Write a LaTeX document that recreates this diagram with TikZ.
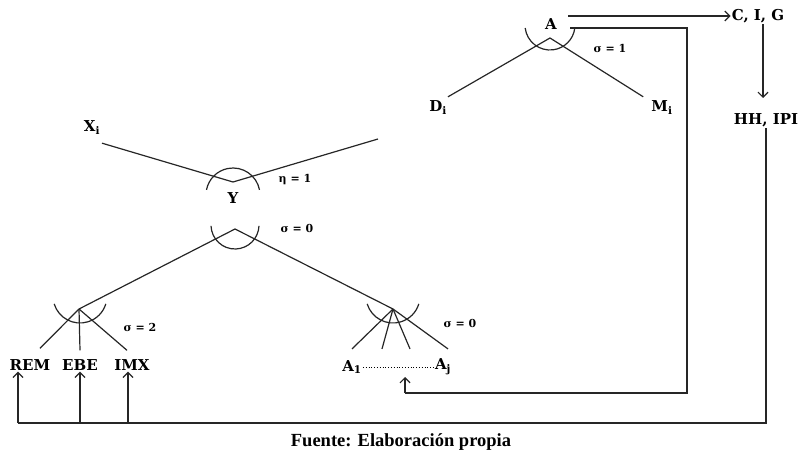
\documentclass[tikz,border=0pt]{standalone}
\usepackage{fontspec}
\setmainfont{DejaVu Serif}
\newfontfamily\footfont{Liberation Serif}
\usetikzlibrary{arrows.meta}
\tikzset{
  lbl/.style={font=\bfseries\fontsize{15}{17}\selectfont, inner sep=1pt},
  par/.style={font=\bfseries\fontsize{11}{13}\selectfont, inner sep=1pt},
  ln/.style={line width=1.2pt, black!85},
  arr/.style={ln, -{Straight Barb[length=5pt,width=10pt]}},
}
\begin{document}
\begin{tikzpicture}[x=1pt,y=1pt]
\useasboundingbox (0,0) rectangle (800,-454);
% labels
\node[lbl] (A) at (551,-24) {A};
\node[lbl] (di) at (438,-108) {D\textsubscript{i}};
\node[lbl] (mi) at (662,-108) {M\textsubscript{i}};
\node[lbl] (cig) at (758,-16) {C, I, G};
\node[lbl] (hh) at (766,-120) {HH, IPI};
\node[lbl] (xi) at (92,-128) {X\textsubscript{i}};
\node[lbl] (Y) at (233,-198) {Y};
\node[lbl] (rem) at (30,-365) {REM};
\node[lbl] (ebe) at (80,-365) {EBE};
\node[lbl] (imx) at (132,-365) {IMX};
\node[lbl] (a1) at (352,-367) {A\textsubscript{1}};
\node[lbl] (aj) at (443,-367) {A\textsubscript{j}};
\node[par] at (610,-48) {σ = 1};
\node[par] at (295,-180) {η = 1};
\node[par] at (297,-228) {σ = 0};
\node[par] at (140,-327) {σ = 2};
\node[par] at (460,-323) {σ = 0};
% apex points of the nests
\coordinate (pA) at (550,-38);
\coordinate (pY) at (233,-182);
\coordinate (p0) at (235,-229);
\coordinate (p2) at (79,-309);
\coordinate (pj) at (393,-309);
\coordinate (yr) at (378,-139);
\coordinate (ret) at (405,-377);
% nests
\draw[ln] (di.north east) ++(0,3) -- (pA) -- ([shift={(-7,3)}]mi.north west);
\draw[ln] (550,-25) ++(187:25) arc[start angle=187,end angle=353,radius=25];
\draw[ln] ([shift={(10,-7)}]xi.south) -- (pY) -- (yr);
\draw[ln] (233,-195) ++(11:27) arc[start angle=11,end angle=169,radius=27];
\draw[ln] (p2) -- (p0) -- (pj);
\draw[ln] (235,-225) ++(182:24) arc[start angle=182,end angle=358,radius=24];
\draw[ln] (p2) -- ([shift={(10,10)}]rem.north);
\draw[ln] (p2) -- ([yshift=8]ebe.north);
\draw[ln] (p2) -- ([shift={(-5,8)}]imx.north);
\draw[ln] (80,-296) ++(197:27) arc[start angle=197,end angle=343,radius=27];
\foreach \dx in {0,30,58,96}
  \draw[ln] (pj) -- ([shift={(\dx,10)}]a1.north);
\draw[ln] (393,-296) ++(197:27) arc[start angle=197,end angle=343,radius=27];
\draw[dotted, line width=0.8pt] (a1.east) -- (aj.west);
% flows
\draw[arr] ([xshift=10pt]A.east |- cig.west) -- (cig.west);
\draw[arr] (cig.south -| 763,0) -- (763,-98);
\draw[ln] ([shift={(12,-4)}]A.east) -- (687,-28) |- (405,-393);
\draw[arr] (405,-393) -- (ret);
\draw[ln] (hh.south) -- (hh.south |- 0,-423) -- (18,-423);
\draw[arr] (18,-423) -- ([xshift=-12pt]rem.south);
\draw[arr] (ebe.south |- 0,-423) -- (ebe.south);
\draw[arr] ([xshift=-4pt]imx.south |- 0,-423) -- ([xshift=-4pt]imx.south);
\node[font=\footfont\bfseries\fontsize{18.5}{20}\selectfont] (src) at (401,-442) {Fuente: Elaboración propia};
\end{tikzpicture}
\end{document}
